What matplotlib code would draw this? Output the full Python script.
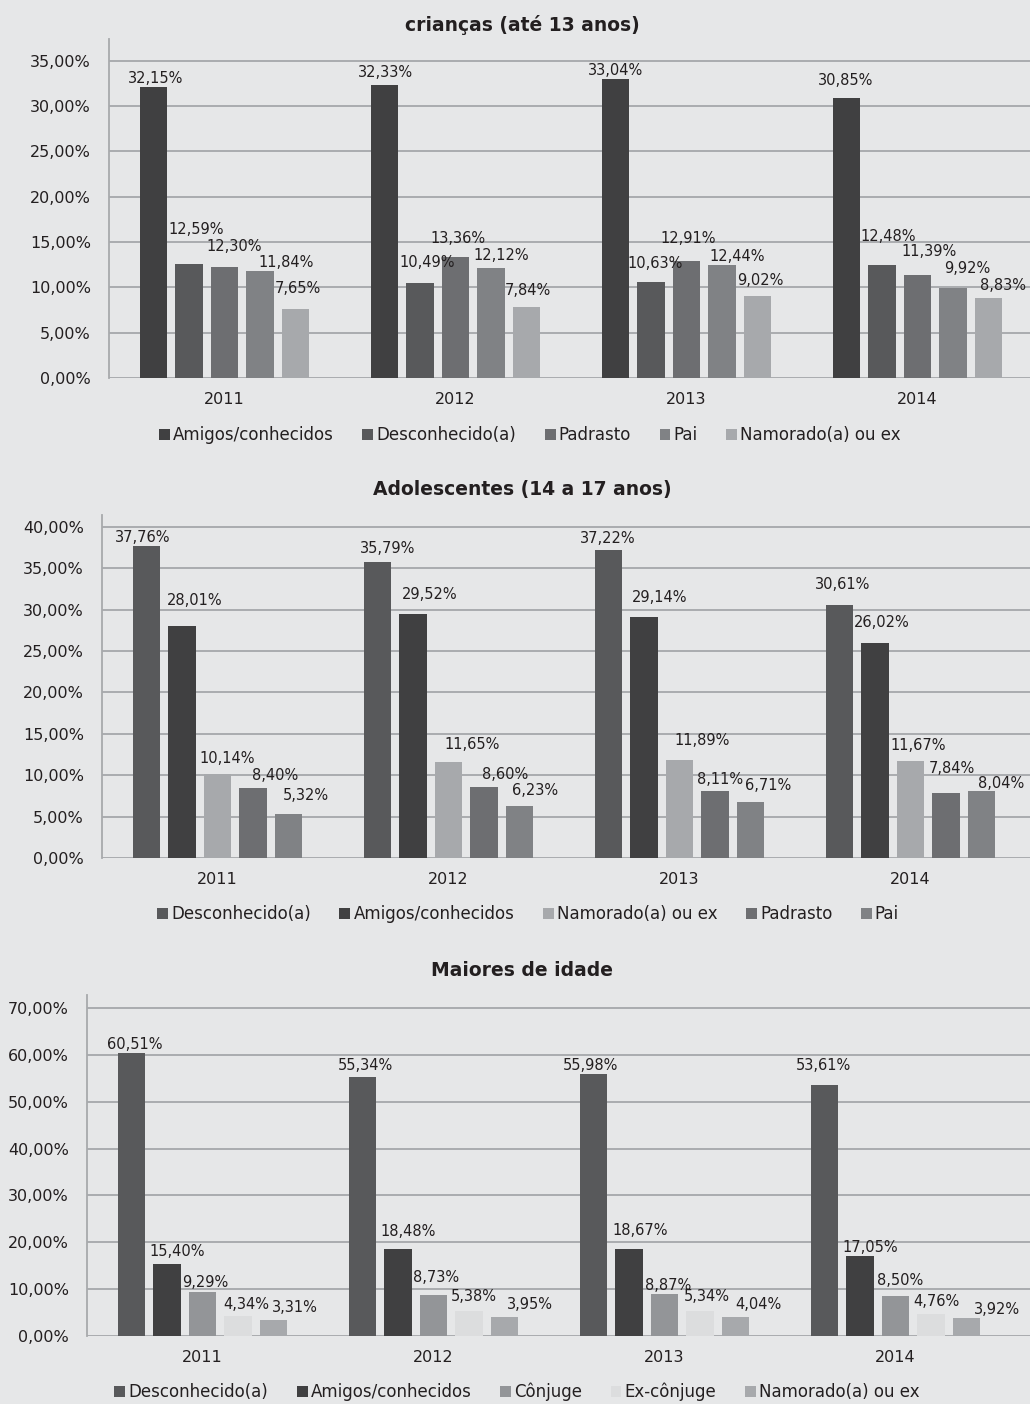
import numpy as np
import matplotlib
matplotlib.use('Agg')
import matplotlib.pyplot as plt
import matplotlib.ticker as mtick
from matplotlib.patches import Patch

W, H = 1030, 1404
BG = '#e6e7e8'
TXT = '#231f20'
GRID = '#a5a7aa'

years = ['2011', '2012', '2013', '2014']

# crianças (até 13 anos)
kids_labels = ['Amigos/conhecidos', 'Desconhecido(a)', 'Padrasto', 'Pai', 'Namorado(a) ou ex']
kids_colors = ['#404041', '#58595b', '#6d6e71', '#808285', '#a7a9ac']
kids_values = [
    [32.15, 32.33, 33.04, 30.85],
    [12.59, 10.49, 10.63, 12.48],
    [12.30, 13.36, 12.91, 11.39],
    [11.84, 12.12, 12.44, 9.92],
    [7.65, 7.84, 9.02, 8.83],
]

# Adolescentes (14 a 17 anos)
teen_labels = ['Desconhecido(a)', 'Amigos/conhecidos', 'Namorado(a) ou ex', 'Padrasto', 'Pai']
teen_colors = ['#58595b', '#404041', '#a7a9ac', '#6d6e71', '#808285']
teen_values = [
    [37.76, 35.79, 37.22, 30.61],
    [28.01, 29.52, 29.14, 26.02],
    [10.14, 11.65, 11.89, 11.67],
    [8.40, 8.60, 8.11, 7.84],
    [5.32, 6.23, 6.71, 8.04],
]

# Maiores de idade
adult_labels = ['Desconhecido(a)', 'Amigos/conhecidos', 'Cônjuge', 'Ex-cônjuge', 'Namorado(a) ou ex']
adult_colors = ['#58595b', '#404041', '#939598', '#dcddde', '#a7a9ac']
adult_values = [
    [60.51, 55.34, 55.98, 53.61],
    [15.40, 18.48, 18.67, 17.05],
    [9.29, 8.73, 8.87, 8.50],
    [4.34, 5.38, 5.34, 4.76],
    [3.31, 3.95, 4.04, 3.92],
]

# label nudges in pixels (Excel-style placement, to keep labels apart)
kids_dx = [[2, 1, 0, -1], [7, 7, 4, 6], [10, 2, 2, 12], [26, 10, 15, 14], [2, 1, 3, 14]]
kids_dy = [[0, 4, 0, 10], [26, 12, 10, 20], [12, 10, 14, 15], [0, 5, 1, 12], [12, 8, 8, 4]]
teen_dx = [[-4, 10, -1, 3], [13, 17, 16, 7], [10, 24, 23, 8], [22, 21, 5, 6], [17, 16, 18, 20]]
teen_dy = [[0, 5, 4, 12], [18, 11, 11, 12], [8, 9, 11, 8], [5, 4, 3, 17], [10, 8, 9, 0]]
adult_dx = [[3, 3, -3, -1], [10, 10, 11, 10], [3, 3, 4, 5], [8, 5, 7, 5], [21, 25, 23, 30]]
adult_dy = [[0, 3, 0, 11], [4, 10, 10, 1], [2, 10, 1, 8], [3, 6, 6, 4], [5, 5, 5, 0]]

plt.rcParams['font.family'] = ['DejaVu Sans']
plt.rcParams['text.color'] = TXT

fig = plt.figure(figsize=(W / 100, H / 100), dpi=100, facecolor=BG)


def px_rect(l, t, r, b):
    return [l / W, 1 - b / H, (r - l) / W, (b - t) / H]


def pct(v, pos=None):
    return ('%.2f' % v).replace('.', ',') + '%'


def draw(rect, title, title_y, labels, colors, values, dxs, dys, ymax, ystep, leg_x, leg_y):
    ax = fig.add_axes(px_rect(*rect))
    ax.set_facecolor(BG)
    x = np.arange(len(years))
    pitch = 0.1537
    width = 0.119
    for i, (lab, col, vals) in enumerate(zip(labels, colors, values)):
        xs = x + (i - 2) * pitch
        ax.bar(xs, vals, width=width, color=col, zorder=3)
        for j, (xx, v) in enumerate(zip(xs, vals)):
            ax.annotate(pct(v), (xx, v),
                        xytext=(dxs[i][j] * 0.72, (8 + dys[i][j]) * 0.72),
                        textcoords='offset points', ha='center', va='center',
                        fontsize=10.5, color=TXT, zorder=4)
    l = rect[0]
    ax.set_xlim(-0.5, -0.5 + (W - l) / 231.0)
    ax.set_ylim(0, ymax)
    ax.set_yticks(np.arange(0, ymax, ystep))
    ax.yaxis.set_major_formatter(mtick.FuncFormatter(pct))
    ax.set_xticks(x)
    ax.set_xticklabels(years)
    ax.tick_params(axis='y', length=0, pad=13, labelsize=11.5, colors=TXT)
    ax.tick_params(axis='x', length=0, pad=10, labelsize=11.5, colors=TXT)
    ax.yaxis.grid(True, color=GRID, lw=1.3)
    ax.set_axisbelow(True)
    for s in ['top', 'right', 'bottom']:
        ax.spines[s].set_visible(False)
    ax.spines['left'].set_color('#a7a9ac')
    ax.spines['left'].set_linewidth(1.3)
    fig.text(522 / W, 1 - title_y / H, title, ha='center', va='center',
             fontsize=13.5, fontweight='bold', color=TXT)
    handles = [Patch(facecolor=c, label=lab) for lab, c in zip(labels, colors)]
    fig.legend(handles=handles, loc='center', bbox_to_anchor=(leg_x / W, 1 - leg_y / H),
               ncol=5, frameon=False, fontsize=12, handlelength=0.65, handleheight=0.65,
               handletextpad=0.2, columnspacing=1.7)
    return ax


draw((109, 39, W, 378), 'crianças (até 13 anos)', 25, kids_labels, kids_colors,
     kids_values, kids_dx, kids_dy, 37.4, 5, 530, 435)
draw((102, 515, W, 858), 'Adolescentes (14 a 17 anos)', 490, teen_labels, teen_colors,
     teen_values, teen_dx, teen_dy, 41.45, 5, 528, 914)
draw((87, 995, W, 1336), 'Maiores de idade', 970, adult_labels, adult_colors,
     adult_values, adult_dx, adult_dy, 72.8, 10, 517, 1392)

fig.savefig('out.png', dpi=100, facecolor=BG)
